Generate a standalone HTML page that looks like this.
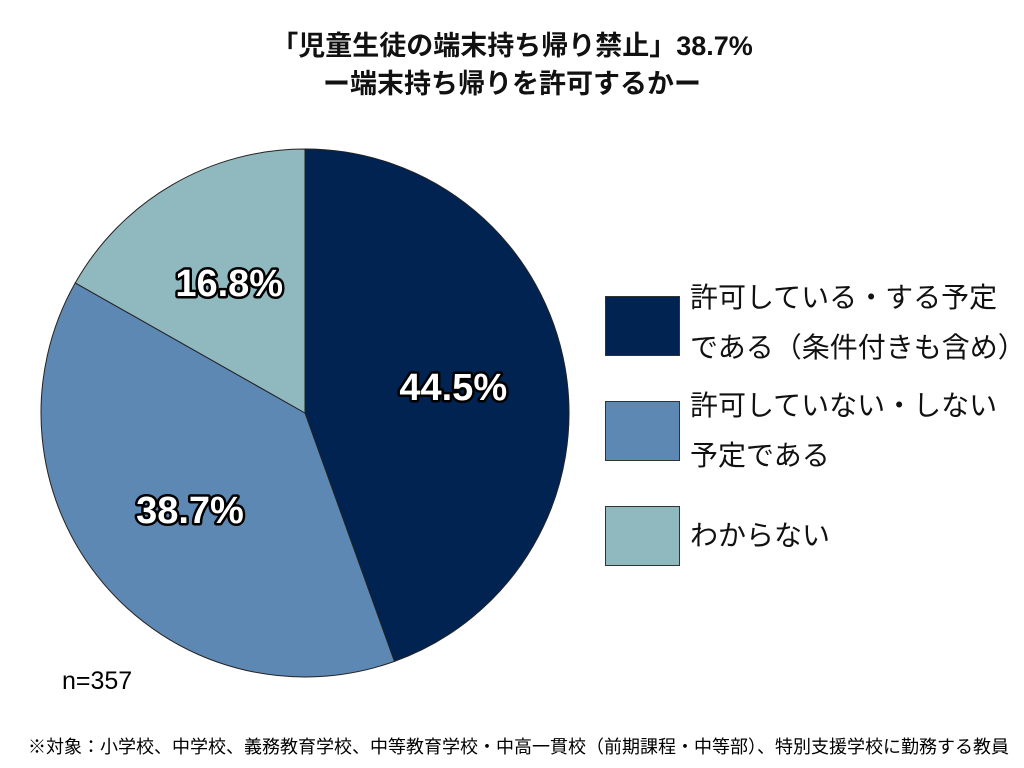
<!DOCTYPE html>
<html><head><meta charset="utf-8">
<style>
body{margin:0;width:1024px;height:768px;background:#fff;overflow:hidden;font-family:"Liberation Sans","Noto Sans CJK JP",sans-serif;}
.t{position:absolute;left:0;width:1024px;text-align:center;font-weight:bold;font-size:27px;color:#111;}
.leg{position:absolute;font-size:28px;color:#111;line-height:50px;}
.box{position:absolute;left:605px;width:75px;height:60px;border:1px solid #333;box-sizing:border-box;}
</style></head><body>
<div class="t" style="top:24px">「児童生徒の端末持ち帰り禁止」38.7%</div>
<div class="t" style="top:62px">ー端末持ち帰りを許可するかー</div>
<svg id="pie" width="1024" height="768" style="position:absolute;left:0;top:0"></svg>
<div class="box" style="top:296px;background:#002352"></div>
<div class="leg" style="left:690px;top:273px">許可している・する予定<br>である（条件付きも含め）</div>
<div class="box" style="top:401px;background:#5d88b3"></div>
<div class="leg" style="left:690px;top:381px">許可していない・しない<br>予定である</div>
<div class="box" style="top:506px;background:#8fb8bf"></div>
<div class="leg" style="left:690px;top:511px">わからない</div>
<div style="position:absolute;left:62px;top:667px;font-size:25px">n=357</div>
<div style="position:absolute;left:28px;top:733px;font-size:18px;white-space:nowrap">※対象：小学校、中学校、義務教育学校、中等教育学校・中高一貫校（前期課程・中等部）、特別支援学校に勤務する教員</div>
<script>
const categories=["許可している","許可していない","わからない"];
const values=[44.5,38.7,16.8];
const colors=["#002352","#5d88b3","#8fb8bf"];
const svg=document.getElementById('pie');
const NS="http://www.w3.org/2000/svg";
const cx=305,cy=413,R=264;
const total=values.reduce((a,b)=>a+b,0);
function pt(frac,r){const a=frac*2*Math.PI;return [cx+r*Math.sin(a),cy-r*Math.cos(a)];}
let acc=0;
values.forEach((v,i)=>{
  const s=acc/total,e=(acc+v)/total;acc+=v;
  const p0=pt(s,R),p1=pt(e,R);
  const large=(e-s)>0.5?1:0;
  const path=document.createElementNS(NS,'path');
  path.setAttribute('d',`M${cx},${cy} L${p0[0]},${p0[1]} A${R},${R} 0 ${large} 1 ${p1[0]},${p1[1]} Z`);
  path.setAttribute('fill',colors[i]);path.setAttribute('stroke','#222');path.setAttribute('stroke-width','1');
  
  
  svg.appendChild(path);
  const m=pt((s+e)/2,R*0.57);
  const t=document.createElementNS(NS,'text');
  t.setAttribute('x',m[0]);t.setAttribute('y',m[1]+13);
  t.setAttribute('text-anchor','middle');
  t.setAttribute('style','font-family:"Liberation Sans",sans-serif;font-weight:bold;font-size:38px;fill:#fff;stroke:#000;stroke-width:5px;paint-order:stroke;stroke-linejoin:round');
  t.textContent=v.toFixed(1)+'%';
  
  
  svg.appendChild(t);
});
</script>
</body></html>
